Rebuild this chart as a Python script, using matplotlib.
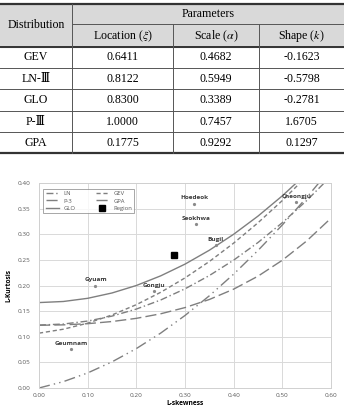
import matplotlib.pyplot as plt
from matplotlib.patches import Rectangle

plt.rcParams['mathtext.fontset'] = 'stix'

# table data
dists = ['GEV', 'LN-Ⅲ', 'GLO', 'P-Ⅲ', 'GPA']
location = ['0.6411', '0.8122', '0.8300', '1.0000', '0.1775']
scale = ['0.4682', '0.5949', '0.3389', '0.7457', '0.9292']
shape = ['-0.1623', '-0.5798', '-0.2781', '1.6705', '0.1297']
sub_headers = [r'Location ($\xi$)', r'Scale ($\alpha$)', r'Shape ($k$)']

# L-moment ratio diagram data
skew = [0.00, 0.05, 0.10, 0.15, 0.20, 0.25, 0.30, 0.35, 0.40, 0.45, 0.50, 0.55, 0.60]
kurt_ln = [0.1228, 0.1248, 0.1306, 0.1403, 0.1540, 0.1717, 0.1935, 0.2194, 0.2495, 0.2839, 0.3226, 0.3657, 0.4133]
kurt_gev = [0.1070, 0.1147, 0.1265, 0.1425, 0.1626, 0.1867, 0.2148, 0.2468, 0.2827, 0.3224, 0.3658, 0.4130, 0.4640]
kurt_p3 = [0.1224, 0.1232, 0.1255, 0.1297, 0.1359, 0.1448, 0.1569, 0.1727, 0.1929, 0.2182, 0.2493, 0.2869, 0.3314]
kurt_gpa = [0.0000, 0.0124, 0.0294, 0.0510, 0.0769, 0.1071, 0.1415, 0.1799, 0.2222, 0.2684, 0.3182, 0.3716, 0.4286]
kurt_glo = [0.1667, 0.1688, 0.1750, 0.1854, 0.2000, 0.2188, 0.2417, 0.2688, 0.3000, 0.3354, 0.3750, 0.4188, 0.4667]

stations = ['Hoedeok', 'Seokhwa', 'Bugil', 'Cheongju', 'Gyuam', 'Gongju', 'Geumnam']
st_skew = [0.319, 0.322, 0.363, 0.529, 0.116, 0.236, 0.066]
st_kurt = [0.360, 0.320, 0.279, 0.362, 0.200, 0.190, 0.076]
region = (0.277, 0.259)

W, H = 344, 411
fig = plt.figure(figsize=(W / 100, H / 100), dpi=100)

# ---- table drawn in pixel coordinates ----
tab = fig.add_axes([0, 0, 1, 1])
tab.set_xlim(0, W)
tab.set_ylim(H, 0)
tab.axis('off')

serif = ['Liberation Serif', 'DejaVu Serif', 'Noto Sans CJK KR']
tab.add_patch(Rectangle((0, 4), W, 43, color='#d9d9d9', zorder=0))
for y, lw in [(4, 1.6), (47, 1.4), (153, 1.6)]:
    tab.plot([0, W], [y, y], color='#333333', lw=lw)
tab.plot([72, W], [24, 24], color='#555555', lw=0.7)
for y in [68, 89, 111, 132]:
    tab.plot([0, W], [y, y], color='#555555', lw=0.7)
tab.plot([72, 72], [4, 153], color='#555555', lw=0.7)
for x in [173, 259]:
    tab.plot([x, x], [24, 153], color='#555555', lw=0.7)

fs = 8.6
tab.text(36, 25.5, 'Distribution', ha='center', va='center', fontsize=fs, family=serif)
tab.text(208, 14, 'Parameters', ha='center', va='center', fontsize=fs, family=serif)
col_x = [122.5, 216, 301.5]
for cx, t in zip(col_x, sub_headers):
    tab.text(cx, 36, t, ha='center', va='center', fontsize=fs, family=serif)
row_y = [57.5, 78.5, 100, 121.5, 142.5]
for ry, d, a, b, c in zip(row_y, dists, location, scale, shape):
    tab.text(36, ry, d, ha='center', va='center', fontsize=fs, family=serif)
    for cx, v in zip(col_x, [a, b, c]):
        tab.text(cx, ry, v, ha='center', va='center', fontsize=fs, family=serif)

# ---- L-moment ratio diagram ----
ax = fig.add_axes([39 / W, 1 - 388 / H, 292 / W, 205 / H])
col = '#7f7f7f'
ax.plot(skew, kurt_ln, color=col, lw=1, ls=(0, (5, 2, 1, 2)), label='LN')
ax.plot(skew, kurt_p3, color=col, lw=1, ls=(0, (8, 3)), label='P-3')
ax.plot(skew, kurt_glo, color=col, lw=1, ls='-', label='GLO')
ax.plot(skew, kurt_gev, color=col, lw=1, ls=(0, (3, 2)), label='GEV')
ax.plot(skew, kurt_gpa, color=col, lw=1, ls=(0, (8, 3, 1, 3, 1, 3)), label='GPA')
ax.plot([region[0]], [region[1]], 's', color='black', ms=4.5, ls='none', label='Region')

ax.plot(st_skew, st_kurt, 'o', color='#8a8a8a', ms=1.3, ls='none')
for name, sx, sy in zip(stations, st_skew, st_kurt):
    ax.text(sx, sy + 0.006, name, ha='center', va='bottom', fontsize=4.6,
            fontweight='bold', color='#3a3a3a', family='Open Sans')

ax.set_xlim(0, 0.6)
ax.set_ylim(0, 0.4)
ax.set_xticks([0, 0.1, 0.2, 0.3, 0.4, 0.5, 0.6])
ax.set_yticks([0, 0.05, 0.1, 0.15, 0.2, 0.25, 0.3, 0.35, 0.4])
ax.set_xticklabels(['%.2f' % v for v in ax.get_xticks()])
ax.set_yticklabels(['%.2f' % v for v in ax.get_yticks()])
ax.tick_params(length=0, labelsize=4.6, labelcolor='#595959')
ax.tick_params(axis='y', pad=6)
ax.tick_params(axis='x', pad=3.5)
for lab in ax.get_xticklabels() + ax.get_yticklabels():
    lab.set_family('Open Sans')
ax.grid(True, color='#d9d9d9', lw=0.7)
ax.set_axisbelow(True)
for s in ax.spines.values():
    s.set_color('#d0d0d0')
    s.set_linewidth(0.7)
ax.set_xlabel('L-skewness', fontsize=4.8, fontweight='bold', family='Open Sans', labelpad=1.5)
ax.set_ylabel('L-Kurtosis', fontsize=4.8, fontweight='bold', family='Open Sans', labelpad=4)

leg = ax.legend(loc='upper left', ncol=2, frameon=True, fancybox=False,
                handlelength=2.2, columnspacing=3.5, borderpad=0.4, labelspacing=0.35,
                bbox_to_anchor=(0.005, 0.985), prop={'family': 'Open Sans', 'size': 4.2})
leg.get_frame().set_edgecolor('#7f7f7f')
leg.get_frame().set_linewidth(0.6)
for t in leg.get_texts():
    t.set_color('#595959')

fig.savefig('out.png', dpi=100)
